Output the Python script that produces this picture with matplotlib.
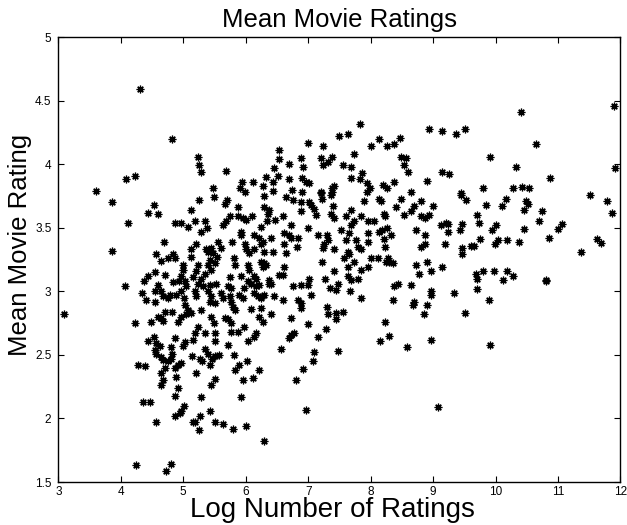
import numpy as np
import matplotlib
matplotlib.use("Agg")
from matplotlib import pyplot as plt
from matplotlib.ticker import FuncFormatter

# (log number of ratings, mean rating), grouped by area
top_band = [
    (4.31, 4.59), (4.82, 4.20), (5.23, 4.06), (5.25, 3.99), (5.29, 3.94), (4.08, 3.88),
    (4.22, 3.91), (3.60, 3.79), (5.69, 3.95), (5.47, 3.81), (6.54, 4.11), (6.54, 4.04),
    (7.00, 4.17), (7.24, 4.14), (7.50, 4.22), (6.89, 4.05), (6.69, 4.00), (6.92, 3.98),
    (6.45, 3.97), (7.21, 4.05), (7.38, 4.06), (7.31, 4.02), (7.24, 3.99), (7.55, 3.99),
    (6.33, 3.90), (6.51, 3.91), (6.44, 3.86), (6.70, 3.88), (6.90, 3.89), (6.97, 3.86),
    (7.02, 3.85), (6.11, 3.86), (5.94, 3.86), (5.91, 3.81), (5.99, 3.78), (6.28, 3.83),
    (6.43, 3.79), (6.74, 3.80), (6.90, 3.78), (7.21, 3.78), (7.38, 3.81), (7.42, 3.83),
    (7.38, 3.78), (7.83, 4.32), (7.64, 4.24), (8.13, 4.20), (8.00, 4.14), (8.26, 4.14),
    (8.37, 4.16), (8.47, 4.21), (8.94, 4.28), (9.15, 4.26), (9.36, 4.24), (9.51, 4.28),
    (7.73, 4.08), (7.68, 3.98), (7.86, 3.93), (7.68, 3.89), (7.83, 3.88), (7.94, 3.85),
    (7.99, 3.81), (7.94, 3.78), (8.20, 3.84), (8.26, 3.81), (8.38, 3.86), (8.48, 4.06),
    (8.56, 4.05), (8.54, 3.99), (8.60, 3.94), (8.91, 3.87), (9.15, 3.94), (9.25, 3.92),
    (8.65, 3.78), (9.45, 3.77), (9.80, 3.81), (10.41, 4.41), (10.64, 4.16), (9.91, 4.06),
    (10.33, 3.98), (10.87, 3.89), (10.28, 3.81), (10.43, 3.82), (10.53, 3.81), (11.90, 4.46),
    (11.92, 3.97),
]

right_side = [
    (11.51, 3.76), (11.78, 3.71), (11.87, 3.62), (9.85, 3.68), (10.17, 3.73), (10.11, 3.67),
    (10.49, 3.71), (10.52, 3.69), (10.46, 3.64), (10.74, 3.63), (10.70, 3.55), (9.71, 3.60),
    (9.73, 3.54), (10.01, 3.52), (9.95, 3.48), (10.45, 3.49), (11.07, 3.53), (11.00, 3.49),
    (10.85, 3.42), (9.75, 3.41), (10.04, 3.40), (9.99, 3.37), (10.19, 3.40), (10.37, 3.39),
    (9.65, 3.36), (11.62, 3.41), (11.69, 3.38), (11.36, 3.31), (9.69, 3.14), (9.71, 3.10),
    (9.80, 3.16), (9.97, 3.16), (10.19, 3.16), (10.28, 3.12), (10.12, 3.09), (10.80, 3.09),
    (10.81, 3.08), (9.71, 3.02), (9.89, 2.93), (9.91, 2.58), (7.48, 2.53), (8.15, 2.61),
    (8.30, 2.65), (8.58, 2.56), (8.97, 2.62), (9.08, 2.09),
]

upper_mid = [
    (8.48, 3.73), (8.80, 3.71), (9.00, 3.67), (8.70, 3.67), (8.64, 3.63), (8.54, 3.60),
    (8.40, 3.66), (8.14, 3.73), (8.16, 3.71), (7.90, 3.71), (8.21, 3.61), (8.23, 3.59),
    (7.68, 3.64), (7.60, 3.59), (7.85, 3.59), (7.95, 3.55), (8.06, 3.55), (7.74, 3.55),
    (7.68, 3.52), (8.81, 3.59), (8.87, 3.58), (8.93, 3.60), (9.45, 3.76), (9.52, 3.72),
    (9.12, 3.52), (9.20, 3.54), (9.24, 3.53), (9.47, 3.53), (9.43, 3.48), (9.24, 3.47),
    (7.52, 3.48), (7.65, 3.46), (7.96, 3.46), (8.14, 3.47), (8.18, 3.48), (8.26, 3.50),
    (8.32, 3.44), (8.72, 3.48), (8.87, 3.44), (8.21, 3.41), (7.60, 3.40), (7.95, 3.39),
    (7.77, 3.40), (7.80, 3.35), (7.84, 3.33), (8.23, 3.35), (8.81, 3.35), (8.87, 3.37),
    (9.19, 3.37), (9.47, 3.34), (9.47, 3.29), (9.61, 3.36), (7.63, 3.31), (7.66, 3.29),
    (7.58, 3.26), (7.74, 3.23), (7.63, 3.19), (7.85, 3.17), (7.95, 3.19), (8.00, 3.26),
    (8.12, 3.26), (8.27, 3.26), (8.30, 3.23), (8.35, 3.22), (8.24, 3.23), (8.72, 3.21),
    (8.90, 3.23), (8.78, 3.14), (8.97, 3.16), (9.15, 3.19), (7.64, 3.12), (7.68, 3.09),
    (7.79, 3.10), (7.67, 3.00), (7.84, 2.95), (8.37, 3.04), (8.43, 3.06), (8.64, 3.05),
    (8.35, 2.93), (8.97, 3.00), (8.96, 2.97), (8.69, 2.92), (8.68, 2.89), (8.91, 2.89),
    (9.33, 2.99), (8.86, 2.82), (9.51, 2.83), (8.23, 2.76),
]

centre = [
    (5.49, 3.74), (5.25, 3.72), (6.29, 3.75), (7.20, 3.77), (7.22, 3.73), (7.37, 3.76),
    (6.65, 3.74), (6.75, 3.72), (6.88, 3.70), (5.70, 3.72), (5.67, 3.69), (7.02, 3.70),
    (7.05, 3.68), (5.87, 3.66), (6.30, 3.66), (6.38, 3.64), (6.36, 3.61), (6.89, 3.63),
    (7.10, 3.65), (7.13, 3.60), (7.39, 3.67), (7.37, 3.61), (7.41, 3.58), (5.74, 3.59),
    (5.69, 3.55), (5.63, 3.52), (5.87, 3.59), (5.95, 3.58), (6.01, 3.56), (6.10, 3.59),
    (6.59, 3.59), (6.34, 3.55), (6.47, 3.56), (6.24, 3.51), (6.73, 3.52), (5.34, 3.55),
    (5.38, 3.50), (5.29, 3.47), (5.18, 3.55), (7.00, 3.50), (7.15, 3.44), (7.30, 3.44),
    (7.31, 3.40), (7.26, 3.37), (7.23, 3.34), (6.62, 3.46), (6.70, 3.44), (6.73, 3.42),
    (6.84, 3.42), (5.92, 3.47), (5.93, 3.44), (6.14, 3.44), (6.22, 3.42), (6.27, 3.39),
    (6.40, 3.42), (7.41, 3.33), (6.61, 3.37), (6.82, 3.35), (5.99, 3.37), (6.01, 3.33),
    (5.55, 3.39), (5.60, 3.34), (5.78, 3.39), (5.44, 3.34), (5.39, 3.31), (5.47, 3.30),
    (5.37, 3.33), (5.21, 3.37), (6.25, 3.37), (6.30, 3.31), (6.43, 3.31), (6.06, 3.30),
    (6.13, 3.33), (6.65, 3.30), (5.81, 3.26), (5.82, 3.21), (5.54, 3.27), (5.51, 3.22),
    (5.42, 3.25), (5.39, 3.21), (5.44, 3.17), (5.34, 3.14), (5.23, 3.21), (5.21, 3.16),
    (6.25, 3.23), (6.30, 3.22), (6.33, 3.21), (6.27, 3.19), (6.04, 3.21), (6.06, 3.17),
    (6.62, 3.19), (7.22, 3.23), (7.42, 3.16), (6.54, 3.13), (6.59, 3.13), (6.13, 3.12),
    (6.17, 3.10), (5.74, 3.11), (5.92, 3.12), (6.03, 3.08), (6.08, 3.06), (5.98, 3.03),
    (6.38, 3.09), (6.41, 3.06), (6.37, 3.06), (7.02, 3.10), (7.00, 3.05), (7.27, 3.10),
    (7.48, 3.06), (5.29, 3.10), (5.23, 3.06), (5.31, 3.04), (5.42, 3.05), (5.53, 3.06),
    (5.71, 3.04), (5.77, 3.03), (6.75, 3.04), (6.89, 3.05), (7.35, 3.03), (7.45, 3.01),
    (6.17, 3.04), (6.22, 3.05), (5.90, 2.97), (5.95, 2.95), (6.14, 2.99), (6.19, 2.96),
    (6.25, 2.95), (6.30, 2.97), (6.46, 2.96), (6.59, 2.93), (7.05, 2.97), (6.84, 2.93),
    (6.89, 2.91), (6.88, 2.87), (5.61, 2.99), (5.63, 2.95), (5.18, 3.00), (5.21, 2.96),
    (5.39, 3.00), (5.45, 2.96), (5.42, 2.92), (5.50, 2.91), (5.74, 2.96), (5.77, 2.92),
    (5.79, 2.88), (5.83, 2.85), (6.09, 2.86), (6.25, 2.87), (6.22, 2.80), (6.27, 2.76),
    (6.41, 2.82), (6.72, 2.79), (7.00, 2.74), (7.30, 2.88), (7.32, 2.82), (7.45, 2.83),
    (7.55, 2.84), (7.45, 2.78), (5.29, 2.85), (5.45, 2.80), (5.49, 2.75), (5.66, 2.79),
    (5.71, 2.78), (5.76, 2.75), (5.98, 2.72), (5.23, 2.72), (5.34, 2.67), (5.50, 2.67),
    (5.51, 2.61), (5.76, 2.68), (5.87, 2.68), (6.17, 2.67), (6.14, 2.64), (6.73, 2.66),
    (6.78, 2.67), (6.70, 2.63), (7.16, 2.64), (7.29, 2.70), (5.72, 2.58), (6.04, 2.61),
]

lower_mid = [
    (6.56, 2.55), (5.34, 2.55), (5.39, 2.51), (5.50, 2.49), (5.57, 2.50), (5.46, 2.47),
    (5.26, 2.47), (5.30, 2.45), (5.81, 2.50), (5.42, 2.42), (6.02, 2.45), (5.90, 2.42),
    (5.83, 2.38), (6.21, 2.38), (5.21, 2.36), (5.51, 2.31), (5.45, 2.26), (5.95, 2.30),
    (6.11, 2.32), (5.28, 2.17), (5.93, 2.17), (5.43, 2.06), (5.26, 2.02), (5.18, 1.97),
    (5.50, 1.97), (5.64, 1.96), (5.25, 1.91), (5.79, 1.92), (6.01, 1.94), (6.29, 1.82),
    (7.10, 2.52), (7.08, 2.45), (6.91, 2.39), (6.81, 2.30), (6.96, 2.07),
]

left_side = [
    (4.44, 2.61), (4.53, 2.64), (4.57, 2.59), (4.54, 2.54), (4.62, 2.57), (4.57, 2.51),
    (4.64, 2.48), (4.68, 2.46), (4.70, 2.40), (4.64, 2.36), (4.76, 2.45), (4.81, 2.47),
    (4.82, 2.51), (4.81, 2.56), (4.86, 2.63), (4.86, 2.40), (4.92, 2.42), (4.96, 2.44),
    (4.89, 2.33), (4.68, 2.30), (4.64, 2.26), (4.92, 2.24), (4.86, 2.18), (4.28, 2.42),
    (4.39, 2.41), (4.99, 2.57), (5.03, 2.60), (5.16, 2.62), (5.14, 2.49), (4.35, 2.13),
    (4.47, 2.13), (5.01, 2.10), (4.96, 2.06), (4.94, 2.04), (4.86, 2.02), (4.57, 1.97),
    (5.16, 1.97), (4.24, 1.63), (4.80, 1.64), (4.72, 1.59),
    (3.86, 3.70), (4.12, 3.54), (3.86, 3.32), (4.06, 3.04), (3.09, 2.82), (4.22, 2.75),
    (4.53, 3.68), (4.43, 3.62), (4.60, 3.61), (5.13, 3.64), (4.86, 3.54), (4.97, 3.54),
    (5.07, 3.51), (4.69, 3.39), (5.12, 3.33), (4.57, 3.29), (4.64, 3.24), (4.76, 3.26),
    (4.84, 3.29), (4.86, 3.26), (5.13, 3.27), (4.55, 3.15), (4.44, 3.12), (4.37, 3.08),
    (4.70, 3.13), (4.99, 3.17), (4.97, 3.12), (5.02, 3.08), (4.93, 3.08), (5.16, 3.11),
    (4.84, 3.07), (4.59, 3.05), (4.64, 3.00), (4.54, 3.00), (4.34, 2.99), (4.41, 2.93),
    (4.54, 2.92), (4.68, 2.96), (4.76, 2.95), (4.78, 2.97), (4.89, 2.97), (4.97, 3.00),
    (5.01, 2.95), (5.05, 3.04), (5.02, 2.89), (5.08, 2.85), (5.05, 2.82), (5.13, 2.83),
    (4.70, 2.84), (4.82, 2.84), (4.64, 2.79), (4.60, 2.80), (4.68, 2.77), (4.49, 2.76),
    (4.92, 2.76), (4.96, 2.80), (5.18, 2.67), (4.99, 3.21),
]

x_ticks = [3, 4, 5, 6, 7, 8, 9, 10, 11, 12]
y_ticks = [1.5, 2, 2.5, 3, 3.5, 4, 4.5, 5]

pts = np.array(top_band + right_side + upper_mid + centre + lower_mid + left_side)

plt.rcParams["font.family"] = ["Liberation Sans", "DejaVu Sans"]

fig = plt.figure(figsize=(6.27, 5.25), dpi=100)
ax = fig.add_axes([0.0931, 0.0819, 0.8965, 0.8474])

ax.plot(pts[:, 0], pts[:, 1], linestyle="none", marker=(8, 2, 0),
        markersize=5.5, markeredgewidth=0.9, color="black")

ax.set_xlim(3, 12)
ax.set_ylim(1.5, 5)
ax.set_xticks(x_ticks)
ax.set_yticks(y_ticks)
ax.yaxis.set_major_formatter(FuncFormatter(lambda v, p: f"{v:g}"))
ax.tick_params(direction="in", top=True, right=True, length=4, width=0.8,
               labelsize=8.5, pad=5)
ax.tick_params(axis="x", pad=3)
for s in ax.spines.values():
    s.set_linewidth(1.0)

ax.set_title("Mean Movie Ratings", fontsize=18.5, pad=7)
ax.set_xlabel("Log Number of Ratings", fontsize=20)
ax.set_ylabel("Mean Movie Rating", fontsize=18.5)
ax.xaxis.set_label_coords(0.488, -0.034)
ax.yaxis.set_label_coords(-0.047, 0.533)

fig.savefig("out.png", dpi=100)
